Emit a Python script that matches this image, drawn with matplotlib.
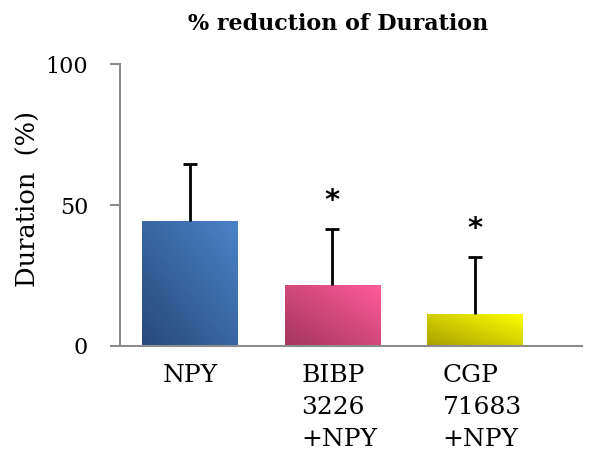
import numpy as np
import matplotlib
matplotlib.use('Agg')
import matplotlib.pyplot as plt
from matplotlib.colors import LinearSegmentedColormap
from matplotlib.transforms import ScaledTranslation

plt.rcParams['font.family'] = 'DejaVu Serif'

# ── 데이터 ─────────────────────────────────────────────
groups   = ["NPY", "BIBP\n3226\n+NPY", "CGP\n71683\n+NPY"]
duration = [44.5, 21.5, 11.5]
sem      = [20.0, 20.0, 20.0]
signif   = [False, True, True]

# 막대별 그라데이션 (왼쪽 아래 → 오른쪽 위)
grad_colors = [("#28497a", "#4a83c9"),
               ("#a3355d", "#ff5b98"),
               ("#a9a000", "#ffff00")]

fig = plt.figure(figsize=(5.93, 4.54), dpi=100)
ax = fig.add_axes([0.2024, 0.2379, 0.779, 0.621])

x = np.arange(len(groups))
bars = ax.bar(x, duration, width=0.67, color="none", edgecolor="none", zorder=2)

# 그라데이션 채우기
yy, xx = np.mgrid[0:1:100j, 0:1:100j]
grad = (xx + yy) / 2
for b, (c0, c1) in zip(bars, grad_colors):
    cmap = LinearSegmentedColormap.from_list("g", [c0, c1])
    x0, y0 = b.get_x(), b.get_y()
    im = ax.imshow(grad, cmap=cmap, origin="lower", aspect="auto",
                   extent=[x0, x0 + b.get_width(), y0, y0 + b.get_height()],
                   zorder=2, vmin=0, vmax=1)
    im.set_clip_path(b)

# 위쪽 오차막대만
eb = ax.errorbar(x, duration, yerr=[np.zeros(len(sem)), sem], fmt="none",
                 ecolor="black", elinewidth=2, capsize=5, capthick=2, zorder=3)
eb[1][0].set_visible(False)

for xi, d, s, sig in zip(x, duration, sem, signif):
    if sig:
        ax.text(xi, d + s + 10, "*", ha="center", va="center",
                fontsize=21, fontweight="bold", family="DejaVu Sans")

ax.set_xlim(-0.49, 2.75)
ax.set_ylim(0, 100)
ax.set_yticks([0, 50, 100])
ax.set_xticks(x)
ax.set_xticklabels(groups, multialignment="left", linespacing=1.5)
ax.tick_params(axis="x", length=0, pad=13, labelsize=18)
ax.tick_params(axis="y", length=7, width=1.5, color="#8c8c8c",
               pad=16, labelsize=16)
# 여러 줄 라벨은 조금 오른쪽으로
for lbl in ax.get_xticklabels():
    if "\n" in lbl.get_text():
        lbl.set_transform(lbl.get_transform() +
                          ScaledTranslation(7 / 100, 0, fig.dpi_scale_trans))

for side in ("top", "right"):
    ax.spines[side].set_visible(False)
for side in ("left", "bottom"):
    ax.spines[side].set_color("#8c8c8c")
    ax.spines[side].set_linewidth(1.5)

ax.set_ylabel("Duration  (%)", fontsize=18.5)
ax.yaxis.set_label_coords(-0.172, 0.52)
fig.text(0.57, 0.948, "% reduction of Duration", ha="center", va="center",
         fontsize=16, fontweight="bold")

fig.savefig("out.png", dpi=100)
